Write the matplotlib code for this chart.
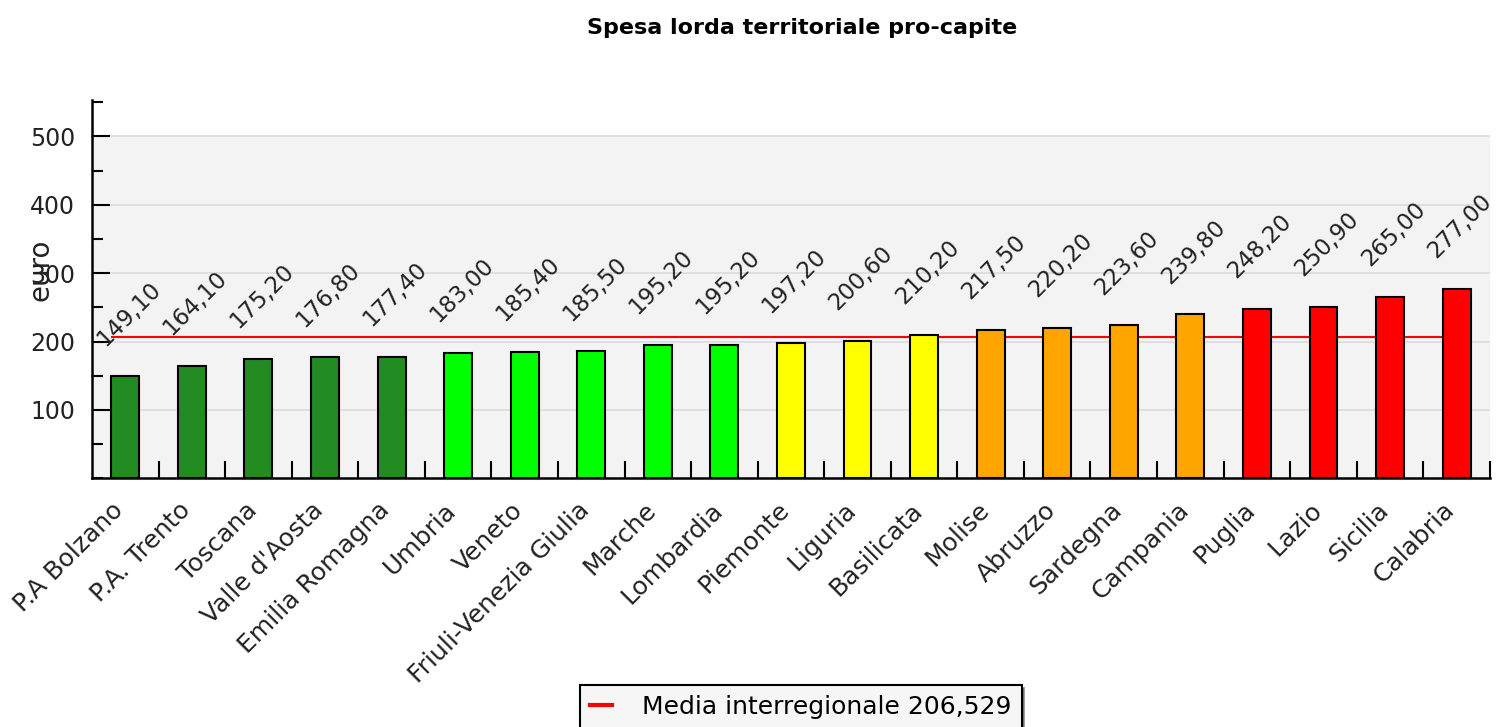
import matplotlib.pyplot as plt
from matplotlib.ticker import MultipleLocator
import numpy as np

regioni = ['P.A Bolzano', 'P.A. Trento', 'Toscana', "Valle d'Aosta", 'Emilia Romagna',
           'Umbria', 'Veneto', 'Friuli-Venezia Giulia', 'Marche', 'Lombardia',
           'Piemonte', 'Liguria', 'Basilicata', 'Molise', 'Abruzzo', 'Sardegna',
           'Campania', 'Puglia', 'Lazio', 'Sicilia', 'Calabria']
spesa = [149.10, 164.10, 175.20, 176.80, 177.40, 183.00, 185.40, 185.50, 195.20, 195.20,
         197.20, 200.60, 210.20, 217.50, 220.20, 223.60, 239.80, 248.20, 250.90, 265.00, 277.00]
colori = ['#228B22'] * 5 + ['#00FF00'] * 5 + ['#FFFF00'] * 3 + ['#FFA500'] * 4 + ['#FF0000'] * 4
media = 206.529

fig = plt.figure(figsize=(15.08, 7.27), dpi=100)
ax = fig.add_axes([0.061, 0.342, 0.927, 0.5204])

x = np.arange(len(regioni))

# sfondo grigio chiaro fino a 500
ax.axhspan(0, 500, color='#f3f3f3', zorder=0)
for y in range(100, 501, 100):
    ax.axhline(y, color='#dcdcdc', linewidth=1.2, zorder=1)

ax.plot([-0.2, 20], [media, media], color='red', linewidth=1.5, zorder=2,
        label='Media interregionale 206,529')
ax.bar(x, spesa, width=0.42, color=colori, edgecolor='black', linewidth=1.5, zorder=3)

for i, v in enumerate(spesa):
    ax.annotate(f'{v:.2f}'.replace('.', ','), (i - 0.25, v), xytext=(0, 19),
                textcoords='offset points', rotation=45, rotation_mode='anchor',
                ha='left', va='bottom', fontsize=16.5, color='#222222', zorder=4)

# etichette regioni ruotate
for i, nome in enumerate(regioni):
    ax.annotate(nome, (i, 0), xytext=(-10, -14), textcoords='offset points',
                rotation=45, rotation_mode='anchor', ha='right', va='top',
                fontsize=18, color='#222222', annotation_clip=False)

ax.set_xlim(-0.5, 20.5)
ax.set_ylim(0, 553)
ax.set_xticks(x + 0.5)
ax.set_xticklabels([])
ax.tick_params(axis='x', direction='in', length=12, width=1.5)
ax.set_yticks([100, 200, 300, 400, 500])
ax.yaxis.set_minor_locator(MultipleLocator(50))
ax.tick_params(axis='y', which='major', direction='in', length=13, width=1.5,
               labelsize=17, labelcolor='#222222', pad=12)
ax.tick_params(axis='y', which='minor', direction='in', length=8, width=1.5)
ax.set_ylabel('euro', fontsize=20, color='#222222')
ax.yaxis.set_label_coords(-0.027, 0.55)

ax.set_facecolor('white')
for s in ['top', 'right']:
    ax.spines[s].set_visible(False)
for s in ['left', 'bottom']:
    ax.spines[s].set_linewidth(1.8)

fig.text(0.532, 0.962, 'Spesa lorda territoriale pro-capite', ha='center', va='center',
         fontsize=16, fontweight='bold')

leg = fig.legend(loc='upper center', bbox_to_anchor=(0.531, 0.058), fontsize=18,
                 frameon=True, fancybox=False, shadow=True, handlelength=0.9,
                 borderpad=0.4, handletextpad=1.2, borderaxespad=0)
leg.get_frame().set_edgecolor('black')
leg.get_frame().set_linewidth(1.5)
leg.get_frame().set_facecolor('#f6f6f6')
for line in leg.get_lines():
    line.set_linewidth(3)

fig.savefig('out.png', dpi=100)
